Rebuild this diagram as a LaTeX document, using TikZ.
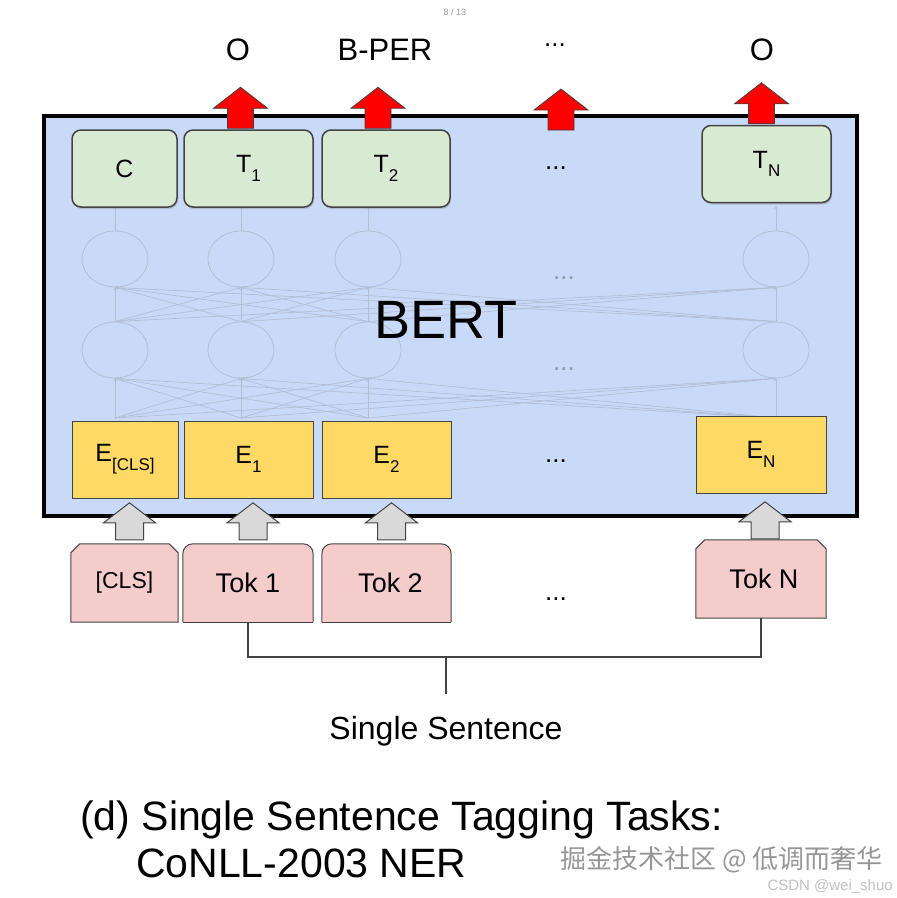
\documentclass[tikz,border=0pt]{standalone}
\usepackage{fontspec}
\setmainfont{Liberation Sans}
\newfontfamily\cjk{Noto Sans CJK SC}
\usetikzlibrary{calc,shapes.geometric,shadows,backgrounds,arrows.meta}

\definecolor{bertblue}{HTML}{C9DAF8}
\definecolor{tgreen}{HTML}{D9EAD3}
\definecolor{eyellow}{HTML}{FFD966}
\definecolor{tokpink}{HTML}{F4CCCC}
\definecolor{arrgray}{HTML}{D9D9D9}
\definecolor{edgegray}{HTML}{434343}
\definecolor{netcol}{RGB}{178,190,212}
\definecolor{markgray}{RGB}{150,150,150}

\newcommand\lowsub[1]{\raisebox{-0.35em}{\fontsize{17}{17}\selectfont #1}}

\tikzset{
  redup/.pic={\path[pic actions] (-13,0) -- (-13,-20) -- (-27,-20) -- (0,-41) -- (27,-20) -- (13,-20) -- (13,0) -- cycle;},
  grayup/.pic={\path[pic actions] (-14,0) -- (-14,-17) -- (-26,-17) -- (0,-37) -- (26,-17) -- (14,-17) -- (14,0) -- cycle;}
}

\begin{document}
\begin{tikzpicture}[x=1pt, y=-1pt,
  tbox/.style={draw=edgegray, line width=1.5pt, fill=tgreen, rounded corners=9pt, minimum height=77pt, inner sep=0pt,
    font=\fontsize{25}{25}\selectfont, drop shadow={shadow xshift=1pt, shadow yshift=-2pt, opacity=0.35}},
  ebox/.style={draw=edgegray, line width=0.8pt, fill=eyellow, minimum height=77pt, inner sep=0pt, font=\fontsize{25}{25}\selectfont},
  tok/.style={minimum height=78pt, inner sep=0pt, font=\fontsize{27}{27}\selectfont},
  tokline/.style={draw=edgegray, line width=1pt, fill=tokpink},
  net/.style={draw=netcol, line width=0.7pt, -{Stealth[length=3pt,width=3pt]}},
  neuron/.style={ellipse, draw=netcol, line width=0.8pt, minimum width=66pt, minimum height=56pt, inner sep=0pt},
  lbl/.style={font=\fontsize{31}{31}\selectfont, anchor=base},
  dots/.style={font=\fontsize{26}{26}\selectfont, anchor=base},
  brline/.style={draw=edgegray, line width=1.3pt}
]
\useasboundingbox (0,0) rectangle (897,898);

\node[draw=black, line width=4pt, fill=bertblue, minimum width=813pt, minimum height=400pt, inner sep=0pt] (bert) at (450.5,316) {};

\foreach \c/\x in {1/115,2/241,3/368,4/776}{
  \node[neuron] (up\c) at (\x,259) {};
  \node[neuron] (lo\c) at (\x,350) {};
  \coordinate (in\c) at (\x,418);
  \coordinate (out\c) at (\x,206);
  \draw[net] (up\c.north) -- (out\c);
}
\foreach \i in {1,...,4}
  \foreach \j in {1,...,4}{
    \draw[net] (in\i) -- (lo\j.south);
    \draw[net] (lo\i.north) -- (up\j.south);
  }
\node[dots, text=netcol!80!black] (ndots1) at (564,279) {...};
\node[dots, text=netcol!80!black] (ndots2) at (564,370) {...};
\node[font=\fontsize{54}{54}\selectfont] (bertlbl) at (446,320) {BERT};

\node[tbox, minimum width=105pt] (tc) at (124.5,168.5) {C};
\node[tbox, minimum width=129pt] (t1) at (248.5,168.5) {T\lowsub{1}};
\node[tbox, minimum width=128pt] (t2) at (386,168.5) {T\lowsub{2}};
\node[tbox, minimum width=129pt] (tn) at (766.5,164) {T\lowsub{N}};
\node[dots] (tdots) at (556,169) {...};

\node[ebox, minimum width=106pt] (ecls) at (125,459.5) {E\lowsub{[CLS]}};
\node[ebox, minimum width=129pt] (e1) at (248.5,459.5) {E\lowsub{1}};
\node[ebox, minimum width=129pt] (e2) at (386.5,459.5) {E\lowsub{2}};
\node[ebox, minimum width=130pt] (en) at (761,454.5) {E\lowsub{N}};
\node[dots] (edots) at (556,462) {...};

\node[tok, minimum width=107pt, font=\fontsize{23}{23}\selectfont] (tcls) at (124.5,583) {[CLS]};
\node[tok, minimum width=130pt] (tok1) at (248,583) {Tok 1};
\node[tok, minimum width=129pt] (tok2) at (386.5,583) {\hspace{8pt}Tok 2};
\node[tok, minimum width=130pt] (tokn) at (761,579) {\hspace{6pt}Tok N};
\node[dots] (kdots) at (556,600) {...};

\begin{scope}[on background layer]
\filldraw[tokline] (tcls.south west) -- ($(tcls.north west)+(0,9)$) -- ($(tcls.north west)+(9,0)$) -- ($(tcls.north east)+(-9,0)$) -- ($(tcls.north east)+(0,9)$) -- (tcls.south east) -- cycle;
\filldraw[tokline] (tokn.south west) -- ($(tokn.north west)+(0,9)$) -- ($(tokn.north west)+(9,0)$) -- ($(tokn.north east)+(-9,0)$) -- ($(tokn.north east)+(0,9)$) -- (tokn.south east) -- cycle;
\filldraw[tokline, rounded corners=10pt] (tok1.south west) -- (tok1.north west) -- (tok1.north east) -- (tok1.south east);
\draw[tokline] (tok1.south west) -- (tok1.south east);
\filldraw[tokline, rounded corners=10pt] (tok2.south west) -- (tok2.north west) -- (tok2.north east) -- (tok2.south east);
\draw[tokline] (tok2.south west) -- (tok2.south east);
\end{scope}

\pic[fill=arrgray, draw=edgegray, line width=1pt] at ($(tcls.north)+(5,-4)$) {grayup};
\pic[fill=arrgray, draw=edgegray, line width=1pt] at ($(tok1.north)+(5,-4)$) {grayup};
\pic[fill=arrgray, draw=edgegray, line width=1pt] at ($(tok2.north)+(5,-4)$) {grayup};
\pic[fill=arrgray, draw=edgegray, line width=1pt] at ($(tokn.north)+(4,-1)$) {grayup};

\pic[fill=red, draw=black!75, line width=0.8pt] at ($(t1.north)+(-8,-1)$) {redup};
\pic[fill=red, draw=black!75, line width=0.8pt] at ($(t2.north)+(-8,-1)$) {redup};
\pic[fill=red, draw=black!75, line width=0.8pt] at (561,130) {redup};
\pic[fill=red, draw=black!75, line width=0.8pt] at ($(tn.north)+(-5,-1)$) {redup};

\node[lbl] (o1) at (238,60) {O};
\node[lbl] (bper) at (385,60) {B-PER};
\node[dots] (odots) at (555,46) {...};
\node[lbl] (on) at (762,60) {O};

\coordinate (brk) at (446,657);
\draw[brline] (tok1.south) |- (brk) -| (tokn.south);
\node[lbl, font=\fontsize{32}{32}\selectfont] (sent) at (446,739) {Single Sentence};
\draw[brline, shorten >=18pt] (brk) -- (sent.north);

\node[anchor=base west, font=\fontsize{41}{41}\selectfont, inner sep=0pt] (cap1) at (80,830) {(d) Single Sentence Tagging Tasks:};
\node[anchor=base west, font=\fontsize{41}{41}\selectfont, inner sep=0pt] (cap2) at (136,877) {CoNLL-2003 NER};

\node[anchor=base west, text=markgray, font=\cjk\fontsize{26}{26}\selectfont, inner sep=0pt] (mark1) at (560,868) {掘金技术社区 @ 低调而奢华};
\node[anchor=base east, text=markgray!60, font=\fontsize{15}{15}\selectfont, inner sep=0pt] (mark2) at (893,890) {CSDN @wei\_shuo};
\node[text=markgray, font=\fontsize{9}{9}\selectfont] (page) at (455,12) {8 / 13};
\end{tikzpicture}
\end{document}
